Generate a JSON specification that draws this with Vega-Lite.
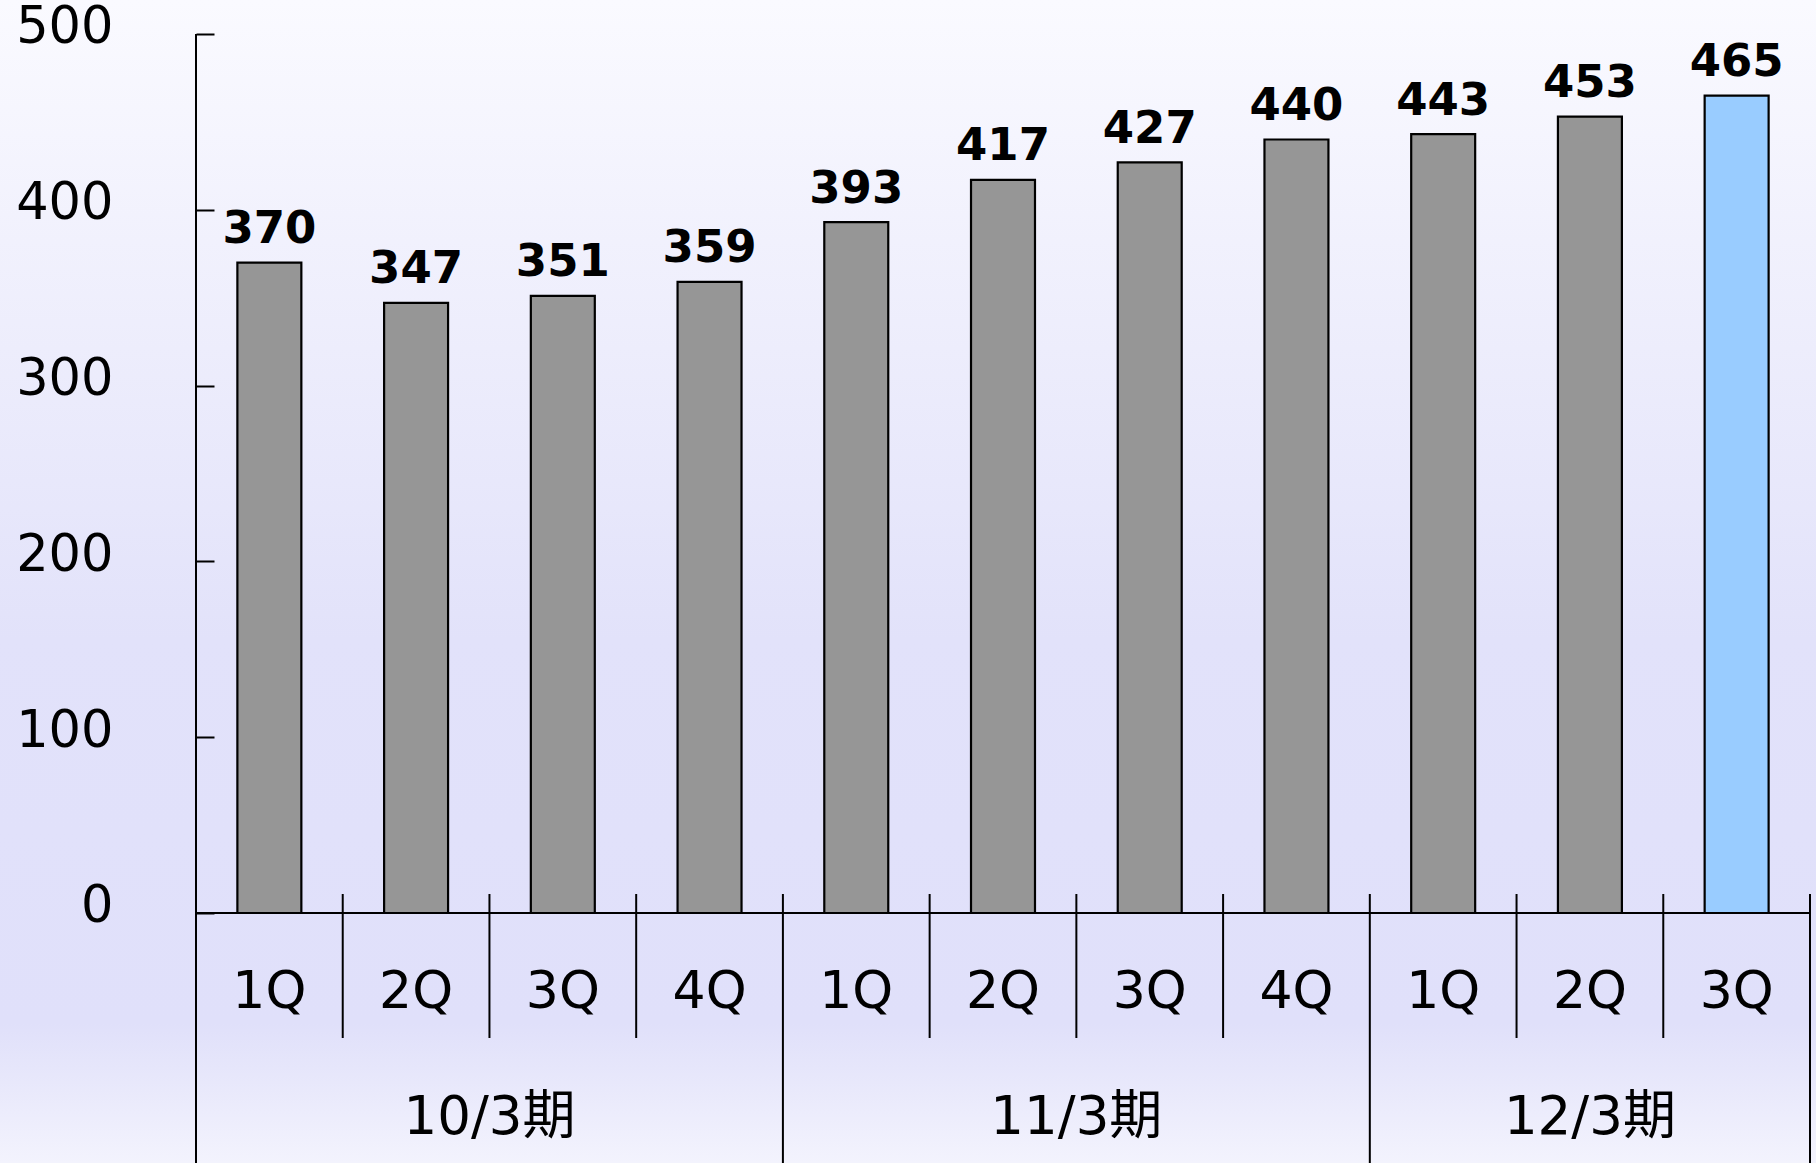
{
  "$schema": "https://vega.github.io/schema/vega-lite/v6.json",
  "width": 1816,
  "height": 1163,
  "autosize": {"type": "none"},
  "padding": 0,
  "background": "#F7F7FE",
  "config": {
    "view": {
      "stroke": null,
      "fill": {
        "gradient": "linear", "x1": 0, "y1": 0, "x2": 0, "y2": 1,
        "stops": [
          {"offset": 0, "color": "#FAFAFF"},
          {"offset": 0.3, "color": "#EDEDFC"},
          {"offset": 0.55, "color": "#E2E2FA"},
          {"offset": 0.88, "color": "#E0E0FA"},
          {"offset": 1, "color": "#F3F3FD"}
        ]
      }
    }
  },
  "data": {
    "values": [
      {"key": "10/3期 1Q", "fy": "10/3期", "q": "1Q", "sales": 370},
      {"key": "10/3期 2Q", "fy": "10/3期", "q": "2Q", "sales": 347},
      {"key": "10/3期 3Q", "fy": "10/3期", "q": "3Q", "sales": 351},
      {"key": "10/3期 4Q", "fy": "10/3期", "q": "4Q", "sales": 359},
      {"key": "11/3期 1Q", "fy": "11/3期", "q": "1Q", "sales": 393},
      {"key": "11/3期 2Q", "fy": "11/3期", "q": "2Q", "sales": 417},
      {"key": "11/3期 3Q", "fy": "11/3期", "q": "3Q", "sales": 427},
      {"key": "11/3期 4Q", "fy": "11/3期", "q": "4Q", "sales": 440},
      {"key": "12/3期 1Q", "fy": "12/3期", "q": "1Q", "sales": 443},
      {"key": "12/3期 2Q", "fy": "12/3期", "q": "2Q", "sales": 453},
      {"key": "12/3期 3Q", "fy": "12/3期", "q": "3Q", "sales": 465}
    ]
  },
  "encoding": {
    "x": {
      "field": "key", "type": "nominal", "sort": null,
      "scale": {"type": "band", "paddingInner": 0, "paddingOuter": 0.68835, "align": 0.9703},
      "axis": null
    }
  },
  "layer": [
    {
      "mark": {"type": "bar", "width": {"band": 0.436}, "stroke": "#000000", "strokeWidth": 2.2},
      "encoding": {
        "y": {
          "field": "sales", "type": "quantitative",
          "scale": {"domain": [-142.21, 519.34], "nice": false, "zero": false},
          "axis": {
            "values": [0, 100, 200, 300, 400, 500],
            "domain": false, "grid": false, "title": null,
            "offset": -196, "tickSize": -18, "tickWidth": 2, "tickColor": "#000000",
            "labelFont": "DejaVu Sans", "labelFontSize": 51, "labelColor": "#000000",
            "labelBaseline": "alphabetic", "labelOffset": 9, "labelPadding": 101,
            "labelFlush": false, "labelOverlap": false, "labelBound": false
          }
        },
        "y2": {"datum": 0},
        "fill": {
          "condition": {"test": "datum.key === '12/3期 3Q'", "value": "#99CCFF"},
          "value": "#969696"
        }
      }
    },
    {
      "mark": {"type": "text", "font": "DejaVu Sans", "fontWeight": "bold", "fontSize": 45, "baseline": "alphabetic", "dy": -19.5, "color": "#000000"},
      "encoding": {
        "y": {"field": "sales", "type": "quantitative"},
        "text": {"field": "sales", "type": "quantitative"}
      }
    },
    {
      "transform": [{"filter": "datum.q !== '1Q'"}],
      "mark": {"type": "rule", "strokeWidth": 2, "color": "#000000"},
      "encoding": {
        "x": {"field": "key", "type": "nominal", "sort": null, "bandPosition": 0},
        "y": {"datum": 10.8},
        "y2": {"datum": -71.1}
      }
    },
    {
      "transform": [{"filter": "datum.q === '1Q'"}],
      "mark": {"type": "rule", "strokeWidth": 2, "color": "#000000"},
      "encoding": {
        "x": {"field": "key", "type": "nominal", "sort": null, "bandPosition": 0},
        "y": {"datum": 10.8},
        "y2": {"datum": -142.21}
      }
    },
    {
      "transform": [{"filter": "datum.key === '12/3期 3Q'"}],
      "mark": {"type": "rule", "strokeWidth": 2, "color": "#000000"},
      "encoding": {
        "x": {"field": "key", "type": "nominal", "sort": null, "bandPosition": 1},
        "y": {"datum": 10.8},
        "y2": {"datum": -142.21}
      }
    },
    {
      "transform": [{"filter": "datum.key === '10/3期 1Q'"}],
      "mark": {"type": "rule", "strokeWidth": 2, "color": "#000000"},
      "encoding": {
        "x": {"field": "key", "type": "nominal", "sort": null, "bandPosition": 0},
        "y": {"datum": 500},
        "y2": {"datum": -142.21}
      }
    },
    {
      "transform": [{"filter": "datum.key === '10/3期 1Q'"}],
      "mark": {"type": "rule", "strokeWidth": 2.2, "color": "#000000"},
      "encoding": {
        "x": {"datum": "10/3期 1Q", "bandPosition": 0},
        "x2": {"datum": "12/3期 3Q", "bandPosition": 1},
        "y": {"datum": 0}
      }
    },
    {
      "mark": {"type": "text", "font": "DejaVu Sans", "fontSize": 52, "baseline": "alphabetic", "color": "#000000"},
      "encoding": {
        "y": {"datum": -54.0},
        "text": {"field": "q", "type": "nominal"}
      }
    },
    {
      "transform": [{"filter": "datum.q === '3Q' && datum.fy !== '12/3期'"}],
      "mark": {"type": "text", "font": "DejaVu Sans, Noto Sans CJK JP", "fontSize": 53, "baseline": "alphabetic", "color": "#000000"},
      "encoding": {
        "x": {"field": "key", "type": "nominal", "sort": null, "bandPosition": 0},
        "y": {"datum": -125.7},
        "text": {"field": "fy", "type": "nominal"}
      }
    },
    {
      "transform": [{"filter": "datum.key === '12/3期 2Q'"}],
      "mark": {"type": "text", "font": "DejaVu Sans, Noto Sans CJK JP", "fontSize": 53, "baseline": "alphabetic", "color": "#000000"},
      "encoding": {
        "y": {"datum": -125.7},
        "text": {"field": "fy", "type": "nominal"}
      }
    }
  ]
}
